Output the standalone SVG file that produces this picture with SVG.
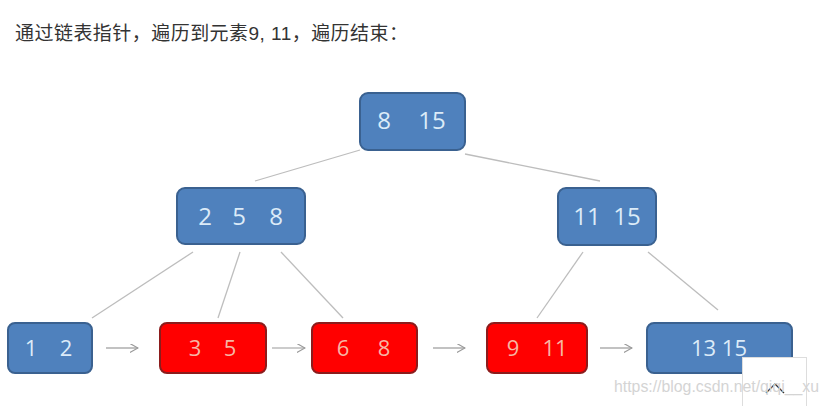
<svg xmlns="http://www.w3.org/2000/svg" width="829" height="406" viewBox="0 0 829 406">
<defs>
<style>
.blue{fill:#4F81BD;stroke:#3A6190;stroke-width:2}
.red{fill:#FF0000;stroke:#8C1C1C;stroke-width:2}
.bt{fill:#DCEBF8;font-family:"Open Sans","Liberation Sans",sans-serif;text-anchor:middle}
.rt{fill:#F7B6A4;font-family:"Open Sans","Liberation Sans",sans-serif;text-anchor:middle;font-size:22px}
.big{font-size:24px}
.small{font-size:22px}
.edge{stroke:#BDBDBD;stroke-width:1.3;fill:none}
.link{stroke:#9A9A9A;stroke-width:1.2;fill:none}
</style>
<marker id="ah" viewBox="0 0 10 10" refX="9" refY="5" markerWidth="9" markerHeight="9" markerUnits="userSpaceOnUse" orient="auto">
<path d="M0,0 L9,5 L0,10" fill="none" stroke="#9A9A9A" stroke-width="1.3"/>
</marker>
</defs>
<rect width="829" height="406" fill="#FFFFFF"/>
<text x="15" y="40" font-family="'Liberation Sans','Noto Sans CJK SC',sans-serif" font-size="19" fill="#333333" textLength="393" lengthAdjust="spacing">通过链表指针，遍历到元素9, 11，遍历结束：</text>
<g id="connectors">
<line class="edge" x1="360" y1="150" x2="255" y2="181"/>
<line class="edge" x1="465" y1="154" x2="600" y2="181"/>
<line class="edge" x1="193" y1="252" x2="92" y2="318"/>
<line class="edge" x1="240" y1="252" x2="218" y2="318"/>
<line class="edge" x1="281" y1="252" x2="343" y2="318"/>
<line class="edge" x1="583" y1="252" x2="537" y2="318"/>
<line class="edge" x1="648" y1="252" x2="718" y2="310"/>
<line class="link" x1="106" y1="348" x2="138" y2="348" marker-end="url(#ah)"/>
<line class="link" x1="272" y1="348" x2="305" y2="348" marker-end="url(#ah)"/>
<line class="link" x1="433" y1="348" x2="465" y2="348" marker-end="url(#ah)"/>
<line class="link" x1="600" y1="348" x2="632" y2="348" marker-end="url(#ah)"/>
</g>
<g id="n-root"><rect class="blue" x="360" y="93" width="105" height="57" rx="8"/><text class="bt big" x="384" y="129">8</text><text class="bt big" x="432" y="129">15</text></g>
<g id="n-258"><rect class="blue" x="177" y="188" width="128" height="56" rx="8"/><text class="bt big" x="205" y="225">2</text><text class="bt big" x="239" y="225">5</text><text class="bt big" x="276" y="225">8</text></g>
<g id="n-1115"><rect class="blue" x="558" y="188" width="98" height="57" rx="8"/><text class="bt big" x="587" y="225">11</text><text class="bt big" x="627" y="225">15</text></g>
<g id="n-12"><rect class="blue" x="8" y="323" width="84" height="50" rx="7"/><text class="bt small" x="31" y="356">1</text><text class="bt small" x="66" y="356">2</text></g>
<g id="n-35"><rect class="red" x="160" y="323" width="106" height="50" rx="7"/><text class="rt" x="195" y="356">3</text><text class="rt" x="230" y="356">5</text></g>
<g id="n-68"><rect class="red" x="312" y="323" width="105" height="50" rx="7"/><text class="rt" x="343" y="356">6</text><text class="rt" x="384" y="356">8</text></g>
<g id="n-911"><rect class="red" x="487" y="323" width="100" height="50" rx="7"/><text class="rt" x="513" y="356">9</text><text class="rt" x="555" y="356">11</text></g>
<g id="n-1315"><rect class="blue" x="647" y="323" width="145" height="50" rx="7"/><text class="bt small" x="719" y="356">13 15</text></g>
<g id="totop"><rect x="742.5" y="357.5" width="64" height="50" fill="#FFFFFF" stroke="#DDDDDD"/><path d="M766,393 L775,384 L784,393" fill="none" stroke="#333333" stroke-width="1.3"/></g>
<text x="614" y="392" font-family="'Liberation Sans',sans-serif" font-size="16" fill="#D4D4D4" textLength="205" lengthAdjust="spacingAndGlyphs">https://blog.csdn.net/qiqi__xu</text>
</svg>
